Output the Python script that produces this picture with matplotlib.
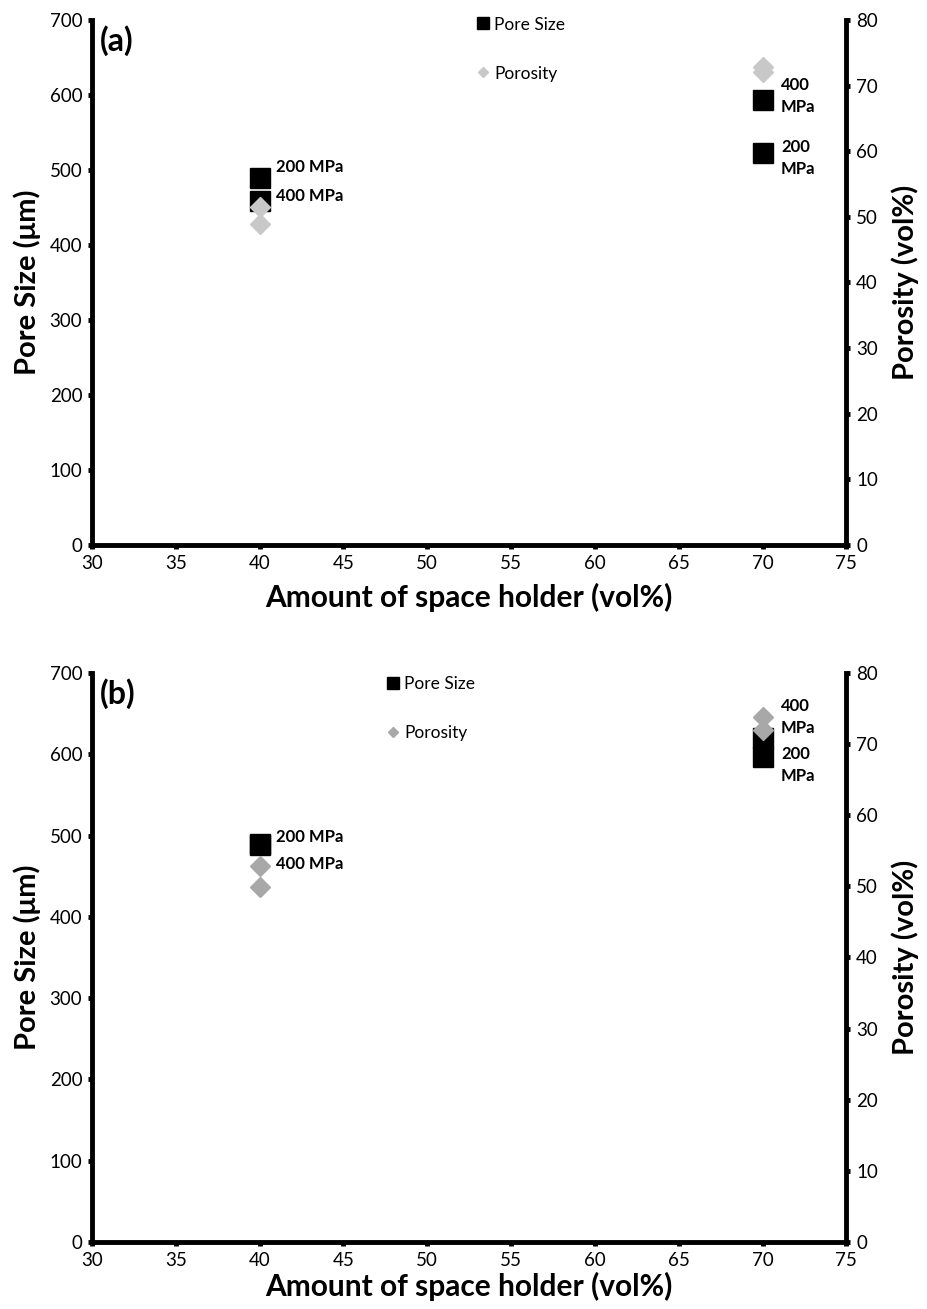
import matplotlib
matplotlib.use("Agg")
import matplotlib.pyplot as plt
from matplotlib.lines import Line2D

plt.rcParams['font.family'] = ['Lato', 'DejaVu Sans']

# data
space_holder = [40, 40, 70, 70]
pressure_labels = ['200 MPa', '400 MPa', '400\nMPa', '200\nMPa']

pore_a = [489, 458, 593, 523]
poro_a = [51.5, 48.9, 72.8, 72.1]
pore_b = [490, 488, 620, 597]
poro_b = [52.9, 49.9, 73.8, 72.0]

# label anchor points (x in vol%, y in pore size units)
label_x = [41.0, 41.0, 71.1, 71.1]
label_y_a = [504, 465, 599, 516]
label_y_b = [498, 465, 646, 587]

gray_a = '#c8c8c8'
gray_b = '#a8a8a8'

fig = plt.figure(figsize=(9.27, 13.09), dpi=100)


def panel(rect, pore, poro, gray, tag, label_y, leg_anchor, xpad):
    ax = fig.add_axes(rect)
    ax2 = ax.twinx()
    ax.plot(space_holder, pore, 's', color='black', ms=15, mec='black', zorder=3)
    ax2.plot(space_holder, poro, 'D', color=gray, ms=10.5, mec=gray, zorder=4)

    ax.set_xlim(30, 75)
    ax.set_ylim(0, 700)
    ax2.set_ylim(0, 80)
    ax.set_xticks(range(30, 80, 5))
    ax.set_yticks(range(0, 800, 100))
    ax2.set_yticks(range(0, 90, 10))

    for a in (ax, ax2):
        a.spines['top'].set_visible(False)
        for s in ('left', 'right', 'bottom'):
            a.spines[s].set_linewidth(3.5)
        a.tick_params(width=3.5, length=3, labelsize=13.5, pad=4)
    ax.spines['right'].set_visible(False)
    ax2.spines['left'].set_visible(False)
    ax2.spines['bottom'].set_visible(False)

    ax.set_xlabel('Amount of space holder (vol%)', fontsize=21.5, fontweight='bold', labelpad=xpad)
    ax.set_ylabel('Pore Size (\u03bcm)', fontsize=21, fontweight='bold', labelpad=6)
    ax2.set_ylabel('Porosity (vol%)', fontsize=21, fontweight='bold', labelpad=10)

    ax.text(0.011, 0.99, tag, transform=ax.transAxes, fontsize=23,
            fontweight='bold', va='top', ha='left')

    for lx, ly, txt in zip(label_x, label_y, pressure_labels):
        ax.text(lx, ly, txt, fontsize=12, fontweight='bold', va='center', ha='left',
                linespacing=1.45, zorder=5)

    handles = [Line2D([], [], marker='s', ls='none', color='black', ms=8),
               Line2D([], [], marker='D', ls='none', color=gray, ms=5.5)]
    ax2.legend(handles, ['Pore Size', 'Porosity'], loc='upper left',
               bbox_to_anchor=leg_anchor, bbox_transform=fig.transFigure,
               frameon=False, fontsize=12.5, handlelength=0.6, handletextpad=0.35,
               labelspacing=1.9, borderpad=0)
    return ax, ax2


panel([0.0992, 0.5837, 0.8138, 0.4010], pore_a, poro_a, gray_a, '(a)', label_y_a,
      (0.506, 0.994), 8)
panel([0.0992, 0.0512, 0.8138, 0.4347], pore_b, poro_b, gray_b, '(b)', label_y_b,
      (0.409, 0.4905), 2)

fig.savefig('out.png', dpi=100)
